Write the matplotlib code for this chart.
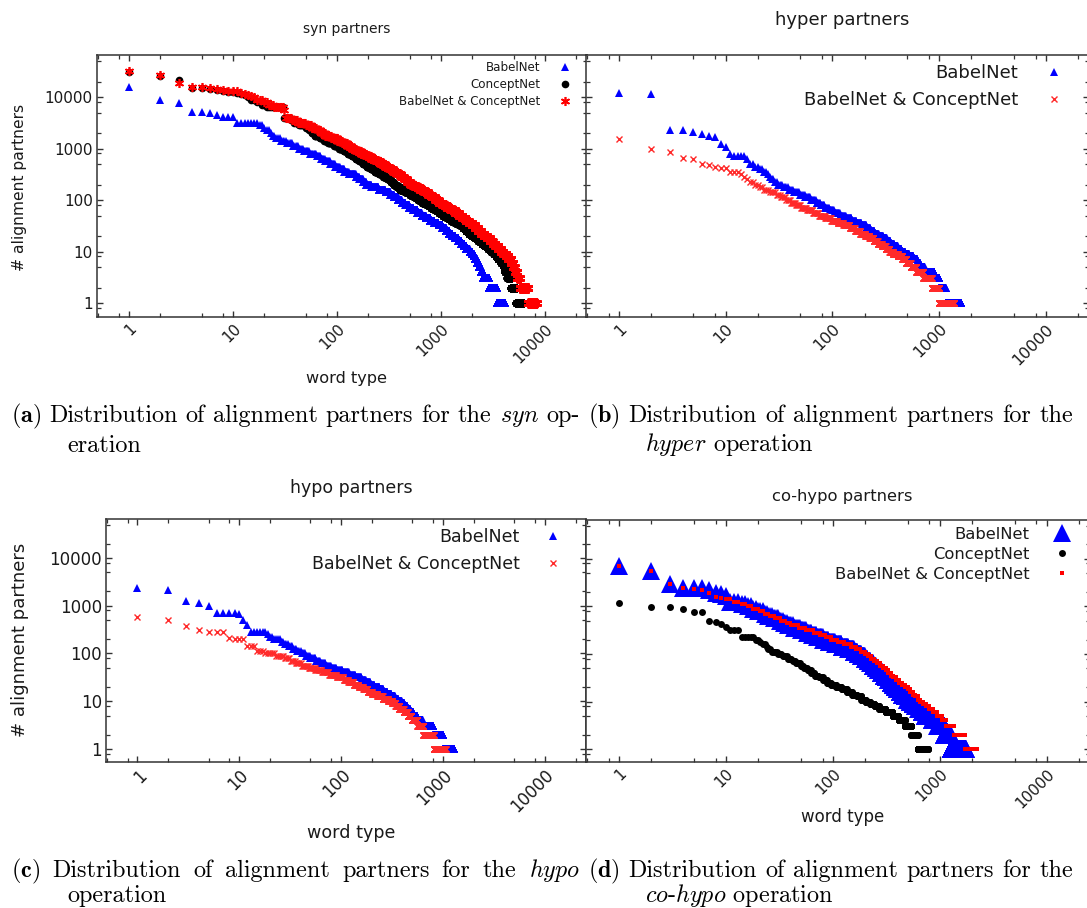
# -*- coding: utf-8 -*-
"""Rank/frequency plots of alignment partners (syn, hyper, hypo, co-hypo)."""
import numpy as np
import matplotlib
matplotlib.use("Agg")
import matplotlib.pyplot as plt
from matplotlib.ticker import FixedLocator, LogLocator, NullFormatter

plt.rcParams.update({"font.family": "DejaVu Sans", "mathtext.fontset": "cm"})
BLUE = "#0000ff"; RED = "#ff0000"; XRED = "#ff2a2a"; BLACK = "#000000"; INK = "#1a1a1a"

W, H = 1087, 908

# partner-count levels (ascending) used for the dense part of each curve
LEVELS = [1, 2, 3, 4, 5, 6, 7, 8, 9, 10,
          11, 13, 14, 16, 18, 20, 22, 25, 28, 32,
          35, 40, 45, 50, 56, 63, 71, 79, 89, 100,
          112, 126, 141, 158, 178, 200, 224, 251, 282, 316,
          355, 398, 447, 501, 562, 631, 708, 794, 891, 1000,
          1122, 1259, 1413, 1585, 1778, 1995, 2239, 2512, 2818, 3162,
          3548, 3981, 4467, 5012, 5623, 6310, 7079, 7943, 8913, 10000]

# *_TOP: partners of the first ranked word types, one by one
# *_NGE: number of word types with at least LEVELS[i] partners
SYN_BN_TOP = [15400, 8800, 7800, 5100, 5050, 5000, 4500, 4100, 4000, 4000]
SYN_BN_NGE = [4160, 3430, 2900, 2550, 2400, 2300, 2200, 2120, 2060, 2000,
              1880, 1750, 1670, 1570, 1470, 1370, 1280, 1190, 1110, 1030,
              946, 861, 783, 713, 650, 592, 540, 493, 454, 418,
              385, 353, 324, 292, 250, 213, 190, 177, 163, 151,
              129, 117, 106, 95, 85, 76, 69, 63, 54, 47,
              42, 37, 32, 28, 25, 23, 22, 20, 19, 17]
SYN_CN_TOP = [31000, 26000, 21400, 15200, 15000, 14500, 13900, 12800, 12600, 12300, 12000,
              11500, 11000]
SYN_CN_NGE = [6200, 5300, 4700, 4350, 4150, 4000, 3800, 3500, 3350, 3220,
              3055, 2845, 2640, 2455, 2280, 2120, 1970, 1840, 1720, 1610,
              1500, 1370, 1250, 1140, 1040, 948, 867, 793, 725, 661,
              601, 547, 497, 447, 403, 374, 349, 326, 304, 278,
              254, 231, 211, 193, 177, 163, 150, 138, 126, 115,
              104, 93, 81, 74, 67, 60, 56, 53, 49, 42,
              38, 35, 30, 30, 30, 30, 20, 18, 16, 14]
SYN_BC_TOP = [32000, 26800, 18500, 15500, 15500, 14800, 14000, 13500, 13200, 13000, 12800,
              12000, 11500, 11000, 10500]
SYN_BC_NGE = [8300, 6900, 5700, 5400, 5100, 4900, 4700, 4400, 4200, 3980,
              3750, 3530, 3330, 3130, 2940, 2750, 2580, 2415, 2260, 2115,
              1980, 1845, 1720, 1600, 1485, 1360, 1240, 1130, 1030, 950,
              878, 811, 750, 690, 622, 562, 507, 471, 439, 409,
              378, 347, 318, 289, 260, 234, 210, 189, 169, 151,
              137, 124, 111, 100, 87, 76, 69, 63, 56, 49,
              41, 36, 31, 31, 31, 30, 24, 21, 19, 16]

HYPER_BN_TOP = [12100, 11600, 2330, 2330, 2100, 1900, 1730, 1680, 1250, 1070]
HYPER_BN_NGE = [1620, 1150, 1000, 900, 730, 660, 620, 570, 520, 480,
                442, 408, 377, 348, 322, 297, 271, 248, 226, 207,
                187, 168, 151, 133, 117, 103, 93, 84, 77, 70,
                62, 55, 49, 43, 38, 34, 30, 28, 26, 25,
                24, 22, 20, 18, 16, 16, 15, 11]
HYPER_BC_TOP = [1560, 1000, 860, 640, 620, 510, 475, 440, 420, 410]
HYPER_BC_NGE = [1370, 1000, 850, 710, 610, 540, 490, 450, 410, 369,
                341, 315, 290, 265, 242, 221, 202, 181, 162, 144,
                126, 111, 97, 85, 74, 65, 57, 50, 45, 40,
                36, 32, 29, 25, 22, 20, 18, 16, 15, 14, 13]

HYPO_BN_TOP = [2340, 2090, 1280, 1140, 1000, 720, 720, 720, 720, 670]
HYPO_BN_NGE = [1290, 1000, 800, 630, 560, 510, 475, 445, 415, 392,
               363, 336, 311, 285, 258, 238, 212, 192, 174, 157,
               138, 119, 103, 90, 79, 70, 62, 56, 49, 44,
               40, 36, 33, 30, 27, 25, 21, 19, 18, 12,
               12, 12, 11, 11]
HYPO_BC_TOP = [590, 510, 380, 310, 285, 285, 285, 215, 205, 205]
HYPO_BC_NGE = [1060, 810, 640, 560, 490, 450, 410, 370, 340, 316,
               288, 255, 225, 200, 181, 164, 148, 132, 117, 105,
               90, 75, 64, 55, 47, 40, 35, 31, 27, 22,
               17, 14, 14, 11, 11, 11]

COHYPO_BN_TOP = [7200, 5640, 2900, 2400, 2400, 2400, 2250, 1950, 1800, 1650]
COHYPO_BN_NGE = [1740, 1260, 1100, 950, 850, 730, 680, 630, 590, 557,
                 525, 496, 469, 444, 421, 398, 379, 362, 345, 329,
                 314, 298, 281, 265, 251, 236, 223, 210, 198, 183,
                 169, 156, 139, 120, 104, 91, 80, 70, 63, 56,
                 49, 42, 37, 34, 31, 27, 24, 22, 19, 17,
                 15, 13]
COHYPO_CN_TOP = [1200, 970, 970, 890, 780, 760, 490, 480, 425, 370]
COHYPO_CN_NGE = [770, 620, 540, 470, 410, 360, 310, 270, 245, 223,
                 202, 184, 167, 151, 135, 120, 107, 96, 88, 80,
                 73, 67, 62, 57, 53, 49, 44, 41, 37, 33,
                 30, 26, 24, 23, 21, 20, 18, 13, 13, 13]
COHYPO_BC_TOP = [7200, 5460, 2900, 2400, 2300, 2200, 1900, 1600, 1500, 1450]
COHYPO_BC_NGE = [2250, 1730, 1360, 1130, 1050, 940, 860, 790, 740, 690,
                 654, 620, 588, 557, 528, 501, 470, 440, 412, 388,
                 367, 348, 330, 312, 294, 276, 259, 242, 227, 213,
                 200, 181, 164, 147, 127, 110, 96, 85, 75, 65,
                 55, 47, 40, 36, 32, 28, 25, 22, 20, 17,
                 15, 13, 11]

TICKS = [1, 10, 100, 1000, 10000]
TICK_LABELS = ["1", "10", "100", "1000", "10000"]
XLIM = (0.492, 25350); YLIM = (0.535, 65400)


def ranked(top, nge):
    """word-type ranks and partner counts, highest count first"""
    k = len(top)
    n = np.array(list(nge) + [k] * (len(LEVELS) - len(nge)))
    n = np.maximum(n, k)
    counts = n - np.append(n[1:], k)
    vals = np.repeat(LEVELS, counts)[::-1]
    y = np.concatenate([top, vals])
    return np.arange(1, len(y) + 1), y


def panel(left, top, right, bottom, fs):
    ax = fig.add_axes([left / W, 1 - bottom / H, (right - left) / W, (bottom - top) / H])
    ax.set_xscale("log"); ax.set_yscale("log")
    ax.set_xlim(*XLIM); ax.set_ylim(*YLIM)
    for axis in (ax.xaxis, ax.yaxis):
        axis.set_major_locator(FixedLocator(TICKS))
        axis.set_minor_locator(LogLocator(base=10, subs=(2, 5, 8)))
        axis.set_minor_formatter(NullFormatter())
    ax.set_xticklabels(TICK_LABELS, rotation=45, ha="right", va="top",
                       rotation_mode="anchor", fontsize=fs, color=INK)
    ax.set_yticklabels(TICK_LABELS, fontsize=fs, color=INK)
    ax.tick_params(which="both", direction="in", top=True, right=True, color="#333333")
    ax.tick_params(which="major", length=4.5, width=1.0, pad=3)
    ax.tick_params(which="minor", length=3.0, width=0.9)
    for s in ax.spines.values():
        s.set_color("#333333"); s.set_linewidth(1.1)
    return ax


def legend(ax, fs, x, y, spacing, pad):
    ax.legend(loc="upper right", bbox_to_anchor=(x / W, 1 - y / H), bbox_transform=fig.transFigure,
              frameon=False, markerfirst=False, fontsize=fs, handlelength=1.0, numpoints=1,
              handletextpad=pad, labelspacing=spacing, borderpad=0, borderaxespad=0,
              labelcolor=INK)


def justified(words, x0, x1, y, **kw):
    """one caption line, words spread from x0 to x1 like the typeset original"""
    texts = [fig.text(0, 1 - y / H, w, **kw) for w in words]
    r = fig.canvas.get_renderer()
    widths = [t.get_window_extent(r).width for t in texts]
    gap = (x1 - x0 - sum(widths)) / (len(words) - 1)
    x = x0
    for t, w in zip(texts, widths):
        t.set_x(x / W)
        x += w + gap


fig = plt.figure(figsize=(W / 100, H / 100), dpi=100)
fig.patch.set_facecolor("white")

# (a) syn
ax = panel(97, 55, 587, 317, 11)
ax.plot(*ranked(SYN_BN_TOP, SYN_BN_NGE), ls="none", marker="^", ms=5.5, color=BLUE, mew=0, label="BabelNet")
ax.plot(*ranked(SYN_CN_TOP, SYN_CN_NGE), ls="none", marker="o", ms=5.5, color=BLACK, mew=0, label="ConceptNet")
ax.plot(*ranked(SYN_BC_TOP, SYN_BC_NGE), ls="none", marker=(6, 2, 0), ms=6.5, color=RED, mew=1.2,
        label="BabelNet & ConceptNet")
legend(ax, 8.6, 571, 61, 0.35, 1.6)
fig.text(347 / W, 1 - 29 / H, "syn partners", fontsize=10, ha="center", va="center", color=INK)
fig.text(20 / W, 1 - 187 / H, "# alignment partners", fontsize=11.2, rotation=90, ha="center", va="center", color=INK)
fig.text(347 / W, 1 - 378 / H, "word type", fontsize=11.6, ha="center", va="center", color=INK)

# (b) hyper
ax = panel(586, 55, 1089, 317, 11.5)
ax.tick_params(labelleft=False)
ax.plot(*ranked(HYPER_BN_TOP, HYPER_BN_NGE), ls="none", marker="^", ms=6, color=BLUE, mew=0, label="BabelNet")
ax.plot(*ranked(HYPER_BC_TOP, HYPER_BC_NGE), ls="none", marker="x", ms=5, color=XRED, mew=1.0,
        label="BabelNet & ConceptNet")
legend(ax, 13, 1063, 64, 0.5, 1.5)
fig.text(842 / W, 1 - 20 / H, "hyper partners", fontsize=13, ha="center", va="center", color=INK)

# (c) hypo
ax = panel(106, 519, 586, 762, 12)
ax.plot(*ranked(HYPO_BN_TOP, HYPO_BN_NGE), ls="none", marker="^", ms=6, color=BLUE, mew=0, label="BabelNet")
ax.plot(*ranked(HYPO_BC_TOP, HYPO_BC_NGE), ls="none", marker="x", ms=5, color=XRED, mew=1.0,
        label="BabelNet & ConceptNet")
legend(ax, 12.5, 562, 528, 0.5, 1.45)
fig.text(351 / W, 1 - 488 / H, "hypo partners", fontsize=12.5, ha="center", va="center", color=INK)
fig.text(20 / W, 1 - 640 / H, "# alignment partners", fontsize=13, rotation=90, ha="center", va="center", color=INK)
fig.text(351 / W, 1 - 833 / H, "word type", fontsize=12.6, ha="center", va="center", color=INK)

# (d) co-hypo
ax = panel(586, 520, 1090, 762, 11)
ax.tick_params(labelleft=False)
ax.plot(*ranked(COHYPO_BN_TOP, COHYPO_BN_NGE), ls="none", marker="^", ms=13, color=BLUE, mew=0, label="BabelNet")
ax.plot(*ranked(COHYPO_CN_TOP, COHYPO_CN_NGE), ls="none", marker="o", ms=5, color=BLACK, mew=0, label="ConceptNet")
ax.plot(*ranked(COHYPO_BC_TOP, COHYPO_BC_NGE), ls="none", marker="s", ms=2.2, color=RED, mew=0,
        label="BabelNet & ConceptNet")
legend(ax, 11.8, 1070, 527, 0.3, 1.45)
fig.text(842 / W, 1 - 496 / H, "co-hypo partners", fontsize=11.8, ha="center", va="center", color=INK)
fig.text(843 / W, 1 - 817 / H, "word type", fontsize=12, ha="center", va="center", color=INK)

# sub-figure captions
CAP = dict(fontsize=17.4, family="cmr10", va="baseline", color="black")
BODY = ["Distribution", "of", "alignment", "partners", "for", "the"]
justified([r"$\mathbf{(a)}$"] + BODY + [r"$\mathit{syn}$", "op-"], 11, 580, 422, **CAP)
fig.text(67 / W, 1 - 452 / H, "eration", **CAP)
justified([r"$\mathbf{(b)}$"] + BODY, 588, 1073, 422, **CAP)
fig.text(645 / W, 1 - 451 / H, r"$\mathit{hyper}$ operation", **CAP)
justified([r"$\mathbf{(c)}$"] + BODY + [r"$\mathit{hypo}$"], 11, 580, 877, **CAP)
fig.text(67 / W, 1 - 902 / H, "operation", **CAP)
justified([r"$\mathbf{(d)}$"] + BODY, 588, 1073, 877, **CAP)
fig.text(645 / W, 1 - 902 / H, r"$\mathit{co}$-$\mathit{hypo}$ operation", **CAP)

fig.savefig("out.png", dpi=100)
